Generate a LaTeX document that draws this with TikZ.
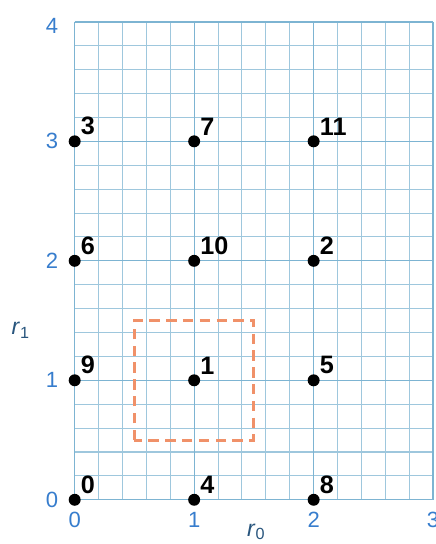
\documentclass[tikz,border=0pt]{standalone}
\usepackage{fontspec}
\setmainfont{Liberation Sans}
\usepackage{tikz}
\usetikzlibrary{positioning}
\usepackage{xcolor}
\definecolor{gridblue}{RGB}{125,180,210}
\definecolor{axisblue}{RGB}{55,125,205}
\definecolor{dashorange}{RGB}{240,145,105}
\definecolor{rlabel}{RGB}{40,85,125}

\begin{document}
\begin{tikzpicture}[
  x=2cm, y=2cm,
  dot/.style={circle, fill=black, inner sep=0pt, minimum size=2mm},
  numlbl/.style={font=\fontsize{12}{13}\selectfont\bfseries, inner sep=0.5pt, label distance=0.2pt},
  tick/.style={font=\fontsize{10.5}{12}\selectfont, text=axisblue, inner sep=0pt},
  axlbl/.style={font=\fontsize{11}{13}\selectfont, text=rlabel, inner sep=0pt},
  cell/.style={dashorange, line width=1.4pt, dash pattern=on 5pt off 3pt},
]
\useasboundingbox (-0.625,-0.37) rectangle (3.017,4.183);

% Grid
\draw[gridblue!75, line width=0.5pt] (0,0) grid[step=0.2] (3,4);
\draw[gridblue, line width=0.6pt] (0,0) grid[step=1] (3,4);

% Axis ticks
\node[tick] (tx0) at (0,-0.17) {0};
\node[tick] (tx1) at (1,-0.17) {1};
\node[tick] (tx2) at (2,-0.17) {2};
\node[tick] (tx3) at (3,-0.17) {3};
\node[tick] (ty0) at (-0.19,0) {0};
\node[tick] (ty1) at (-0.19,1) {1};
\node[tick] (ty2) at (-0.19,2) {2};
\node[tick] (ty3) at (-0.19,3) {3};
\node[tick] (ty4) at (-0.19,3.97) {4};
\node[axlbl] (r0) at (1.52,-0.27) {\textit{r}\textsubscript{0}};
\node[axlbl] (r1) at (-0.45,1.42) {\textit{r}\textsubscript{1}};

% Dashed cell round point 1
\draw[cell] (0.5,0.5) rectangle (1.5,1.5);

% Lattice points
\node[dot, label={[numlbl]45:0}] (p0) at (0,0) {};
\node[dot, label={[numlbl]45:4}] (p4) at (1,0) {};
\node[dot, label={[numlbl]45:8}] (p8) at (2,0) {};
\node[dot, label={[numlbl]45:9}] (p9) at (0,1) {};
\node[dot, label={[numlbl]45:1}] (p1) at (1,1) {};
\node[dot, label={[numlbl]45:5}] (p5) at (2,1) {};
\node[dot, label={[numlbl]45:6}] (p6) at (0,2) {};
\node[dot, label={[numlbl]45:10}] (p10) at (1,2) {};
\node[dot, label={[numlbl]45:2}] (p2) at (2,2) {};
\node[dot, label={[numlbl]45:3}] (p3) at (0,3) {};
\node[dot, label={[numlbl]45:7}] (p7) at (1,3) {};
\node[dot, label={[numlbl]45:11}] (p11) at (2,3) {};
\end{tikzpicture}
\end{document}
